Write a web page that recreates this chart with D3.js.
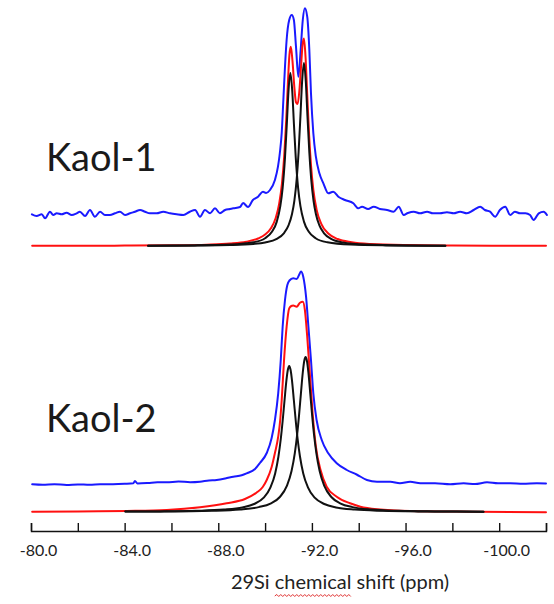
<!DOCTYPE html>
<html>
<head>
<meta charset="utf-8">
<script src="https://cdn.jsdelivr.net/npm/d3@7"></script>
<style>
  html, body { margin: 0; padding: 0; background: #ffffff; }
  svg { display: block; }
</style>
</head>
<body>
<svg id="chart" width="554" height="604"></svg>
<script>
// ---------------- DATA (ppm, intensity in arbitrary units) ----------------
const tickValues = [-80, -82, -84, -86, -88, -90, -92, -94, -96, -98, -100, -102];
const labeledTicks = [-80, -84, -88, -92, -96, -100];
const panelLabels = ["Kaol-1", "Kaol-2"];
const axisTitle = "29Si chemical shift (ppm)";

// Kaol-1 : experimental (blue)
const kaol1Exp = [
  [-80.04,316.7],[-80.24,315],[-80.46,316.7],[-80.60,312.7],[-80.81,319.3],[-80.95,316],[-81.10,317.7],
  [-81.31,316.7],[-81.52,318.3],[-81.74,316],[-81.95,317.7],[-82.09,319.3],[-82.31,315],[-82.52,321],
  [-82.73,314.3],[-82.95,319.3],[-83.16,316],[-83.37,316],[-83.59,317.7],[-83.80,319.3],[-84.02,316],
  [-84.23,317.7],[-84.44,319.3],[-84.66,321],[-84.87,319.3],[-85.08,317.7],[-85.37,317.7],[-85.65,319.3],
  [-85.94,317.7],[-86.22,316.7],[-86.51,316],[-86.79,319.3],[-87.01,321],[-87.22,314.3],[-87.43,321],
  [-87.65,317.7],[-87.86,322.7],[-88.07,317.7],[-88.29,321],[-88.50,322],[-88.64,322.7],[-88.93,324],
  [-89.06,328],[-89.27,324],[-89.48,331],[-89.70,334.3],[-89.91,339.3],[-90.04,338],[-90.21,341],
  [-90.42,351],[-90.55,364.3],[-90.63,378],[-90.71,398],[-90.78,431],[-90.85,464.3],[-90.92,491],
  [-91.03,511],[-91.14,516],[-91.23,511],[-91.32,484.3],[-91.42,454.3],[-91.52,481],[-91.61,511],
  [-91.70,522.7],[-91.80,514.3],[-91.89,481],[-91.96,438],[-92.06,398],[-92.17,374.3],[-92.32,357.7],
  [-92.49,347.7],[-92.70,337.7],[-92.91,339.3],[-93.13,334.3],[-93.41,331],[-93.77,327.7],[-93.98,322.7],
  [-94.14,324.3],[-94.40,322],[-94.64,324.3],[-94.91,322],[-95.21,321],[-95.49,319.3],[-95.71,324.3],
  [-95.92,316],[-96.10,318],[-96.35,319.3],[-96.62,317.7],[-96.92,319.3],[-97.17,317.7],[-97.47,317.7],
  [-97.77,318.7],[-98.06,317.7],[-98.33,319.3],[-98.62,317.7],[-98.91,321],[-99.19,324.3],[-99.39,321],
  [-99.61,319.3],[-99.83,314.3],[-100.03,321],[-100.26,324.3],[-100.47,316],[-100.67,319.3],[-100.89,317.7],
  [-101.12,317.7],[-101.32,316],[-101.47,311],[-101.69,317.7],[-101.90,319.3],[-102.04,316]
];

// Kaol-1 : simulated sum (red)
const kaol1Fit = [
  [-80.05,285.2],[-82,285.2],[-84,285.4],[-86,285.7],[-87.5,286.3],[-88.5,287.4],[-89.2,289.3],
  [-89.7,292.5],[-90.0,296.4],[-90.25,302.7],[-90.45,312.7],[-90.6,327],[-90.72,347.5],[-90.82,376.1],
  [-90.9,410],[-90.97,445.9],[-91.04,476.2],[-91.1,484.2],[-91.17,470.1],[-91.25,443.7],[-91.32,428.7],
  [-91.39,427],[-91.46,439],[-91.53,462.2],[-91.6,486.2],[-91.66,492.4],[-91.73,473.1],[-91.8,436.7],
  [-91.88,396.2],[-91.96,366.1],[-92.06,341.4],[-92.2,321.4],[-92.4,307.1],[-92.7,297.5],[-93.1,292],
  [-93.7,288.8],[-94.5,287],[-96,285.9],[-98,285.5],[-100,285.3],[-102,285.2]
];

// Kaol-1 : components (black)
const kaol1CompA = [
  [-85.0,285.3],[-87.0,285.6],[-88.5,286.4],[-89.5,288.7],[-90.0,292.8],[-90.3,299.4],[-90.5,309.4],
  [-90.65,324.8],[-90.75,343.2],[-90.85,373.4],[-90.93,407.8],[-91.0,440.0],[-91.08,458],[-91.16,440.0],
  [-91.23,407.8],[-91.31,373.4],[-91.41,343.2],[-91.51,324.8],[-91.66,309.4],[-91.86,299.4],[-92.16,292.8],
  [-92.66,288.7],[-93.66,286.4],[-95.16,285.6],[-97.7,285.2]
];
const kaol1CompB = [
  [-85.0,285.2],[-87.0,285.5],[-88.5,286.0],[-89.5,287.1],[-90.0,288.6],[-90.5,292.2],[-90.8,297.7],
  [-91.0,305.6],[-91.15,317.0],[-91.25,330.2],[-91.35,351.8],[-91.43,378.5],[-91.51,414.9],[-91.58,449.0],
  [-91.66,468],[-91.74,449.0],[-91.81,414.9],[-91.89,378.5],[-91.97,351.8],[-92.07,330.2],[-92.17,317.0],
  [-92.32,305.6],[-92.52,297.7],[-92.82,292.2],[-93.32,288.6],[-94.32,286.4],[-96.0,285.5],[-97.7,285.3]
];

// Kaol-2 : experimental (blue)
const kaol2Exp = [
  [-80.05,46.7],[-80.5,46.2],[-81.0,46.8],[-81.52,46],[-82.0,46.6],[-82.5,46.2],[-82.95,46.7],[-83.5,46.8],
  [-84.0,47.2],[-84.37,47.7],[-84.44,50],[-84.55,47.5],[-85.0,48],[-85.4,48.8],[-85.80,48.7],[-86.3,49.5],
  [-86.8,48.8],[-87.22,49.3],[-87.6,50.5],[-87.93,51],[-88.3,52.5],[-88.64,54.3],[-89.0,55.8],[-89.21,57.7],
  [-89.57,62],[-89.78,68],[-90.07,78],[-90.28,93],[-90.42,111],[-90.56,137.7],[-90.67,171],[-90.75,204.3],
  [-90.85,231],[-90.95,246],[-91.04,250.5],[-91.20,252.7],[-91.35,252],[-91.45,256],[-91.53,259.5],
  [-91.63,254.3],[-91.75,234.3],[-91.85,204.3],[-91.96,171],[-92.06,137.7],[-92.20,111],[-92.42,91],
  [-92.70,77.7],[-93.06,67.7],[-93.49,61],[-93.91,56.5],[-94.35,51],[-94.78,49.3],[-95.35,49.3],
  [-95.76,47.7],[-96.20,49.3],[-96.63,47.7],[-97.26,47.7],[-97.91,46.7],[-98.48,47.7],[-98.97,47],
  [-99.48,48.7],[-99.95,47.7],[-100.47,47.7],[-101.02,47.2],[-101.61,47.7],[-102.0,47.5]
];

// Kaol-2 : simulated sum (red)
const kaol2Fit = [
  [-80.05,19.3],[-82.0,19.5],[-84.09,20],[-85.80,21],[-87.22,23.7],[-88.36,27.7],[-89.14,32],[-89.64,38.5],
  [-89.9,44],[-90.07,51],[-90.28,64],[-90.42,78],[-90.56,94.3],[-90.65,112],[-90.71,131],[-90.81,171],
  [-90.92,204.3],[-91.03,222.7],[-91.12,225],[-91.20,225.5],[-91.35,224.3],[-91.49,228.3],[-91.61,229.3],
  [-91.70,221],[-91.80,194.3],[-91.92,154.3],[-92.03,117.7],[-92.17,84.3],[-92.37,61],[-92.63,44.3],
  [-93.06,34.3],[-93.63,27.7],[-94.07,24.3],[-94.78,21.7],[-96.20,20],[-99.05,19.3],[-102.0,18.7]
];

// Kaol-2 : components (black)
const kaol2CompA = [
  [-84.03,19.4],[-85.53,19.6],[-87.03,20.2],[-88.23,21.4],[-89.03,23.6],[-89.53,27.0],[-89.93,33.1],
  [-90.23,43.6],[-90.43,57.6],[-90.57,74.5],[-90.67,92],[-90.75,110],[-90.83,130.5],[-90.91,150.4],
  [-90.97,161],[-91.03,165],[-91.09,161],[-91.15,150.4],[-91.23,130.5],[-91.31,110],[-91.39,92],
  [-91.49,74.5],[-91.63,57.6],[-91.83,43.6],[-92.13,33.1],[-92.53,27.0],[-93.03,23.6],[-93.83,21.4],
  [-95.03,20.2],[-96.53,19.6],[-98.03,19.4],[-99.33,19.3]
];
const kaol2CompB = [
  [-84.03,19.4],[-85.73,19.5],[-87.73,20.2],[-88.93,21.5],[-89.73,23.9],[-90.23,27.4],[-90.63,34.0],
  [-90.93,45.1],[-91.13,60.0],[-91.27,77.9],[-91.37,96.5],[-91.45,115.6],[-91.53,137.4],[-91.61,158.5],
  [-91.67,169.8],[-91.73,174],[-91.79,169.8],[-91.85,158.5],[-91.93,137.4],[-92.01,115.6],[-92.09,96.5],
  [-92.19,77.9],[-92.33,60.0],[-92.53,45.1],[-92.83,34.0],[-93.23,27.4],[-93.73,23.9],[-94.53,21.5],
  [-95.73,20.2],[-97.23,19.6],[-99.33,19.3]
];

// ---------------- DRAWING ----------------
const svg = d3.select("#chart");
const W = 554, H = 604;

const x = d3.scaleLinear().domain([-80, -102]).range([31, 546]);
const y = d3.scaleLinear().domain([0, 520]).range([531, 11]);

const line = d3.line()
  .x(d => x(d[0]))
  .y(d => y(d[1]))
  .curve(d3.curveMonotoneX);

const series = [
  { data: kaol1Exp,   color: "#1a1aff" },
  { data: kaol2Exp,   color: "#1a1aff" },
  { data: kaol1Fit,   color: "#ff1010" },
  { data: kaol2Fit,   color: "#ff1010" },
  { data: kaol1CompA, color: "#111111" },
  { data: kaol1CompB, color: "#111111" },
  { data: kaol2CompA, color: "#111111" },
  { data: kaol2CompB, color: "#111111" }
];

svg.append("g").selectAll("path")
  .data(series)
  .join("path")
  .attr("d", s => line(s.data))
  .attr("fill", "none")
  .attr("stroke", s => s.color)
  .attr("stroke-width", 2)
  .attr("stroke-linejoin", "round")
  .attr("stroke-linecap", "round");

// panel labels
const labelPos = [ { x: 46, y: 171 }, { x: 46, y: 432 } ];
svg.append("g").selectAll("text")
  .data(panelLabels)
  .join("text")
  .attr("x", (d, i) => labelPos[i].x)
  .attr("y", (d, i) => labelPos[i].y)
  .attr("font-family", "Lato, 'Open Sans', sans-serif")
  .attr("font-size", 38)
  .attr("fill", "#1a1a1a")
  .text(d => d);

// x axis
const axis = d3.axisBottom(x)
  .tickValues(tickValues)
  .tickSizeInner(-8)
  .tickSizeOuter(-8)
  .tickPadding(14)
  .tickFormat(d => labeledTicks.includes(d) ? d.toFixed(1) : "");

const gAxis = svg.append("g")
  .attr("transform", `translate(0,${y(0)})`)
  .call(axis);
gAxis.select(".domain").attr("stroke", "#111").attr("stroke-width", 1.4);
gAxis.selectAll(".tick line").attr("stroke", "#111").attr("stroke-width", 1.4);
gAxis.selectAll(".tick text")
  .attr("font-family", "Lato, 'Open Sans', sans-serif")
  .attr("font-size", 16)
  .attr("fill", "#222")
  .attr("dx", 7);

// axis title
const title = svg.append("text")
  .attr("x", 340)
  .attr("y", 589)
  .attr("text-anchor", "middle")
  .attr("font-family", "Lato, 'Open Sans', sans-serif")
  .attr("font-size", 20)
  .attr("fill", "#222")
  .text(axisTitle);

// spell-check style wavy underline beneath "chemical"
const node = title.node();
const x0 = node.getStartPositionOfChar(5).x;
const x1 = node.getEndPositionOfChar(12).x;
const yW = 596;
let dPath = `M${x0},${yW}`;
let up = true;
for (let xx = x0 + 2; xx <= x1; xx += 2) {
  dPath += `L${xx},${up ? yW - 1.5 : yW + 0.5}`;
  up = !up;
}
svg.append("path")
  .attr("d", dPath)
  .attr("fill", "none")
  .attr("stroke", "#e03030")
  .attr("stroke-width", 1);
</script>
</body>
</html>
